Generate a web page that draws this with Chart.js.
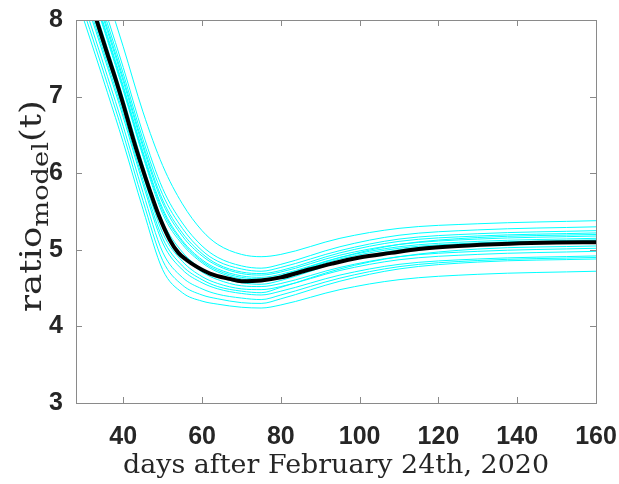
<!DOCTYPE html>
<html>
<head>
<meta charset="utf-8">
<script src="https://cdn.jsdelivr.net/npm/chart.js@4"></script>
<style>
  html, body { margin: 0; padding: 0; background: #fff; }
  #wrap { width: 619px; height: 484px; }
</style>
</head>
<body>
<div id="wrap"><canvas id="ratioChart" width="619" height="484"></canvas></div>
<script>
// Model ratio over time: mean curve (black) and sample runs (cyan)
const xTicks = [40, 60, 80, 100, 120, 140, 160];
const yTicks = [3, 4, 5, 6, 7, 8];

const meanDays = [32, 33.2, 36, 38.1, 40, 42.5, 44.5, 46.7, 49, 51.8, 54, 56, 58.6, 62, 67, 70, 75, 80, 87, 93, 100, 108, 115, 125, 138, 150, 160];
const meanRatio = [8.2, 8.0, 7.55, 7.22, 6.9, 6.45, 6.12, 5.78, 5.45, 5.13, 4.96, 4.87, 4.78, 4.69, 4.62, 4.59, 4.60, 4.64, 4.74, 4.82, 4.90, 4.96, 5.01, 5.05, 5.08, 5.095, 5.10];

const runDays = [30, 33, 36, 40, 45, 50, 55, 60, 64, 70, 75, 80, 95, 110, 130, 160];
const run01 = [9.25, 8.78, 8.30, 7.65, 6.80, 6.10, 5.60, 5.25, 5.07, 4.94, 4.91, 4.94, 5.15, 5.28, 5.34, 5.38];
const run02 = [8.98, 8.51, 8.03, 7.38, 6.52, 5.80, 5.35, 5.05, 4.90, 4.79, 4.76, 4.81, 5.04, 5.19, 5.26, 5.30];
const run03 = [8.90, 8.43, 7.95, 7.30, 6.44, 5.72, 5.28, 4.99, 4.85, 4.75, 4.72, 4.77, 4.99, 5.14, 5.21, 5.25];
const run04 = [8.84, 8.37, 7.89, 7.24, 6.38, 5.65, 5.22, 4.95, 4.81, 4.71, 4.69, 4.73, 4.96, 5.11, 5.18, 5.22];
const run05 = [8.80, 8.33, 7.85, 7.20, 6.34, 5.61, 5.18, 4.92, 4.79, 4.69, 4.67, 4.71, 4.93, 5.07, 5.14, 5.18];
const run06 = [8.74, 8.27, 7.79, 7.14, 6.28, 5.54, 5.12, 4.87, 4.75, 4.66, 4.64, 4.68, 4.90, 5.04, 5.11, 5.15];
const run07 = [8.71, 8.24, 7.76, 7.11, 6.25, 5.51, 5.10, 4.85, 4.73, 4.64, 4.62, 4.66, 4.88, 5.02, 5.09, 5.13];
const run08 = [8.68, 8.21, 7.73, 7.08, 6.22, 5.47, 5.07, 4.83, 4.71, 4.62, 4.60, 4.66, 4.90, 5.07, 5.16, 5.20];
const run09 = [8.58, 8.11, 7.63, 6.98, 6.11, 5.37, 4.97, 4.75, 4.65, 4.57, 4.55, 4.60, 4.84, 5.00, 5.08, 5.12];
const run10 = [8.51, 8.04, 7.56, 6.91, 6.05, 5.30, 4.92, 4.71, 4.61, 4.53, 4.52, 4.56, 4.77, 4.91, 4.98, 5.02];
const run11 = [8.44, 7.97, 7.49, 6.84, 5.98, 5.22, 4.85, 4.65, 4.56, 4.49, 4.48, 4.52, 4.73, 4.87, 4.94, 4.98];
const run12 = [8.38, 7.91, 7.43, 6.78, 5.91, 5.15, 4.79, 4.61, 4.52, 4.46, 4.44, 4.51, 4.75, 4.91, 5.01, 5.05];
const run13 = [8.33, 7.86, 7.38, 6.73, 5.86, 5.09, 4.74, 4.57, 4.49, 4.43, 4.41, 4.46, 4.67, 4.81, 4.88, 4.92];
const run14 = [8.21, 7.74, 7.26, 6.61, 5.75, 4.97, 4.64, 4.49, 4.42, 4.37, 4.35, 4.41, 4.63, 4.78, 4.86, 4.90];
const run15 = [8.11, 7.64, 7.16, 6.51, 5.64, 4.86, 4.54, 4.41, 4.36, 4.31, 4.30, 4.36, 4.59, 4.75, 4.84, 4.88];
const run16 = [8.00, 7.53, 7.05, 6.40, 5.53, 4.74, 4.44, 4.33, 4.29, 4.25, 4.24, 4.28, 4.48, 4.61, 4.68, 4.72];
const cyanRuns = [run01, run02, run03, run04, run05, run06, run07, run08,
                  run09, run10, run11, run12, run13, run14, run15, run16];

const axisColor = "#8a8a8a";
const labelColor = "#262626";
const tickFont = { family: "'Liberation Sans', Arial, sans-serif", size: 25, weight: "bold" };
const serifFont = "'DejaVu Serif', 'Liberation Serif', serif";

const toPoints = (xs, ys) => xs.map((x, i) => ({ x: x, y: ys[i] }));

// Box, inward ticks and LaTeX-style titles
const matlabAxes = {
  id: "matlabAxes",
  afterDraw: (chart) => {
    const { ctx, chartArea: a, scales } = chart;
    const len = 6;
    ctx.save();
    ctx.strokeStyle = axisColor;
    ctx.lineWidth = 1;
    ctx.strokeRect(a.left + 0.5, a.top + 0.5, a.right - a.left, a.bottom - a.top);
    ctx.beginPath();
    xTicks.forEach((v) => {
      const px = Math.round(scales.x.getPixelForValue(v)) + 0.5;
      ctx.moveTo(px, a.bottom); ctx.lineTo(px, a.bottom - len);
      ctx.moveTo(px, a.top); ctx.lineTo(px, a.top + len);
    });
    yTicks.forEach((v) => {
      const py = Math.round(scales.y.getPixelForValue(v)) + 0.5;
      ctx.moveTo(a.left, py); ctx.lineTo(a.left + len, py);
      ctx.moveTo(a.right, py); ctx.lineTo(a.right - len, py);
    });
    ctx.stroke();

    // x title, stretched to the width of the original
    ctx.fillStyle = labelColor;
    ctx.font = "26px " + serifFont;
    ctx.textAlign = "center";
    ctx.textBaseline = "middle";
    const xTitle = "days after February 24th, 2020";
    const xw = ctx.measureText(xTitle).width;
    ctx.save();
    ctx.translate((a.left + a.right) / 2, 466);
    ctx.scale(426 / xw, 1);
    ctx.fillText(xTitle, 0, 0);
    ctx.restore();

    // y title with subscript
    ctx.translate(33, 206);
    ctx.rotate(-Math.PI / 2);
    const big = "30px " + serifFont;
    const small = "23px " + serifFont;
    ctx.font = big;
    const w1 = ctx.measureText("ratio").width;
    const w3 = ctx.measureText("(t)").width;
    ctx.font = small;
    const w2 = ctx.measureText("model").width;
    const total = w1 + w2 + w3;
    ctx.scale(212 / total, 1);
    let x = -total / 2;
    ctx.textAlign = "left";
    ctx.textBaseline = "alphabetic";
    ctx.font = big;
    ctx.fillText("ratio", x, 8);
    x += w1;
    ctx.font = small;
    ctx.fillText("model", x, 15);
    x += w2;
    ctx.font = big;
    ctx.fillText("(t)", x, 8);
    ctx.restore();
  },
};

const datasets = [
  {
    data: toPoints(meanDays, meanRatio),
    borderColor: "#000000",
    borderWidth: 4,
    order: 0,
  },
].concat(cyanRuns.map((run) => ({
  data: toPoints(runDays, run),
  borderColor: "#00ffff",
  borderWidth: 1,
  order: 1,
})));

new Chart(document.getElementById("ratioChart"), {
  type: "line",
  data: { datasets: datasets },
  options: {
    responsive: false,
    animation: false,
    layout: { padding: { left: 0, right: 23, top: 20, bottom: 0 } },
    plugins: { legend: { display: false }, tooltip: { enabled: false } },
    elements: {
      point: { radius: 0 },
      line: { cubicInterpolationMode: "monotone", fill: false },
    },
    scales: {
      x: {
        type: "linear",
        min: 28,
        max: 160,
        afterBuildTicks: (s) => { s.ticks = xTicks.map((v) => ({ value: v })); },
        afterFit: (s) => { s.height = 81; s.paddingLeft = 0; s.paddingRight = 0; },
        grid: { display: false, drawTicks: false },
        border: { display: false },
        ticks: { font: tickFont, color: labelColor, padding: 19, maxRotation: 0 },
      },
      y: {
        min: 3,
        max: 8,
        afterBuildTicks: (s) => { s.ticks = yTicks.map((v) => ({ value: v })); },
        afterFit: (s) => { s.width = 76; s.paddingTop = 0; s.paddingBottom = 0; },
        grid: { display: false, drawTicks: false },
        border: { display: false },
        ticks: { font: tickFont, color: labelColor, padding: 13 },
      },
    },
  },
  plugins: [matlabAxes],
});
</script>
</body>
</html>
